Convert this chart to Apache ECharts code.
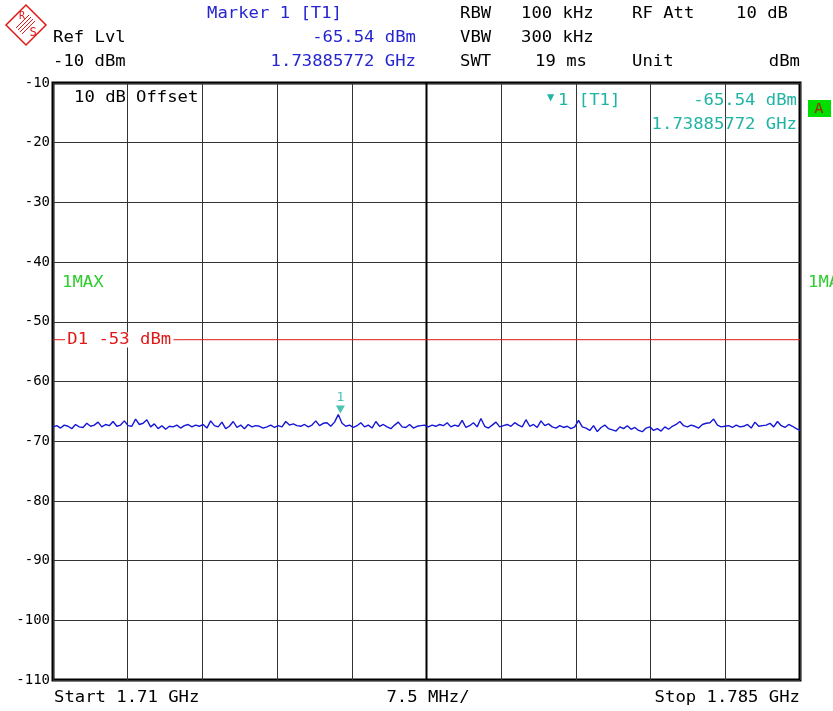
<!DOCTYPE html>
<html><head><meta charset="utf-8">
<script src="https://cdn.jsdelivr.net/npm/echarts@6/dist/echarts.min.js"></script>
<style>html,body{margin:0;padding:0;background:#fff}#c{width:833px;height:711px}</style>
</head><body><div id="c"></div>
<script>
// ---- data ----
const startMHz = 1710;
const stopMHz = 1785;
const spanPerDivMHz = 7.5;
const refLevel = -10;
const bottomLevel = -110;
const levelStep = 10;
const displayLineLevel = -53;
const markerFreqMHz = 1738.85772;
const markerLevel = -65.54;
const traceValues = [
 -67.6,-67.4,-67.8,-67.3,-67.5,-67.9,-67.2,-67.6,-67.7,-67.0,-67.5,-67.3,-66.8,-67.6,-67.2,-67.4,-66.7,-67.5,-67.3,-66.6,
 -67.4,-67.5,-66.3,-67.2,-67.0,-66.4,-67.6,-67.1,-67.9,-67.4,-68.0,-67.5,-67.6,-67.3,-67.8,-67.4,-67.2,-67.6,-67.3,-67.5,
 -67.2,-67.8,-66.6,-67.4,-67.6,-66.8,-67.9,-67.5,-66.7,-67.7,-67.3,-67.9,-67.2,-67.6,-67.4,-67.5,-67.8,-67.6,-67.3,-67.7,
 -67.4,-67.6,-66.7,-67.3,-67.1,-67.4,-67.5,-67.2,-67.6,-67.3,-66.6,-67.4,-67.0,-66.9,-67.5,-66.8,-65.54,-67.0,-67.5,-67.3,
 -67.7,-67.4,-66.9,-67.6,-67.3,-67.8,-66.7,-67.5,-67.2,-67.6,-67.9,-67.3,-66.8,-67.6,-67.7,-67.2,-67.8,-67.5,-67.4,-67.3,
 -67.6,-67.3,-67.5,-67.2,-67.4,-66.9,-67.6,-67.3,-67.5,-66.5,-67.7,-67.4,-66.9,-67.6,-66.2,-67.5,-67.8,-67.3,-66.8,-67.6,
 -67.4,-67.2,-67.5,-66.9,-67.3,-67.6,-66.4,-67.5,-67.2,-67.7,-66.6,-67.4,-67.1,-67.6,-67.8,-67.4,-67.7,-67.5,-67.9,-67.6,
 -66.5,-67.6,-67.8,-68.2,-67.4,-68.4,-67.7,-67.3,-67.9,-68.1,-68.3,-67.6,-67.9,-67.4,-68.0,-67.7,-68.2,-68.4,-67.8,-67.6,
 -68.2,-67.9,-68.3,-67.6,-68.0,-67.5,-67.2,-66.7,-67.4,-67.6,-67.3,-67.5,-67.8,-67.2,-67.0,-66.9,-66.3,-67.3,-67.6,-67.5,
 -67.4,-67.7,-67.3,-67.6,-67.5,-67.2,-67.8,-66.8,-67.5,-67.4,-67.3,-67.0,-67.6,-66.7,-67.4,-67.7,-67.2,-67.5,-67.9,-68.2
];

// ---- build ----
const n = traceValues.length;
const traceData = traceValues.map((v, i) => [startMHz + i * (stopMHz - startMHz) / (n - 1), v]);
const centerMHz = (startMHz + stopMHz) / 2;

const MONO = "'DejaVu Sans Mono', 'Liberation Mono', monospace";
const SX = 1.15;
function t(text, x, y, color, align, size, scale) {
  return {
    type: 'text', x: x, y: y, scaleX: scale || SX, z: 100,
    style: { text: text, fill: color, fontFamily: MONO, fontSize: size || 15,
             textAlign: align || 'left', textVerticalAlign: 'middle' }
  };
}
const BLACK = '#000', BLUE = '#2626d0', TEAL = '#20b4a4', GREEN = '#30cc30', RED = '#e01818';

const graphics = [
  // R&S logo
  { type: 'polygon', z: 100, shape: { points: [[26,5],[46,25],[26,45],[6,25]] }, style: { fill: 'none', stroke: RED, lineWidth: 1.5 } },
  { type: 'line', z: 100, shape: { x1: 16, y1: 28, x2: 29, y2: 15 }, style: { stroke: RED, lineWidth: 1 } },
  { type: 'line', z: 100, shape: { x1: 18, y1: 30, x2: 31, y2: 17 }, style: { stroke: RED, lineWidth: 1 } },
  { type: 'line', z: 100, shape: { x1: 20, y1: 32, x2: 33, y2: 19 }, style: { stroke: RED, lineWidth: 1 } },
  { type: 'line', z: 100, shape: { x1: 22, y1: 34, x2: 35, y2: 21 }, style: { stroke: RED, lineWidth: 1 } },
  { type: 'text', z: 100, x: 22, y: 16, style: { text: 'R', fill: RED, fontFamily: MONO, fontSize: 10, textAlign: 'center', textVerticalAlign: 'middle' } },
  { type: 'text', z: 100, x: 33, y: 33, style: { text: 'S', fill: RED, fontFamily: MONO, fontSize: 12, textAlign: 'center', textVerticalAlign: 'middle' } },
  // header
  t('Ref Lvl', 53, 38, BLACK),
  t('-10 dBm', 53, 62, BLACK),
  t('Marker 1 [T1]', 207, 14, BLUE),
  t('-65.54 dBm', 416, 38, BLUE, 'right'),
  t('1.73885772 GHz', 416, 62, BLUE, 'right'),
  t('RBW', 460, 14, BLACK),
  t('100 kHz', 521, 14, BLACK),
  t('RF Att', 632, 14, BLACK),
  t('10 dB', 788, 14, BLACK, 'right'),
  t('VBW', 460, 38, BLACK),
  t('300 kHz', 521, 38, BLACK),
  t('SWT', 460, 62, BLACK),
  t('19 ms', 535, 62, BLACK),
  t('Unit', 632, 62, BLACK),
  t('dBm', 800, 62, BLACK, 'right'),
  // inside plot
  t('10 dB', 74, 98, BLACK),
  t('Offset', 136, 98, BLACK),
  t('▼', 547, 98, TEAL, 'left', 12, 1),
  t('1 [T1]', 558, 101, TEAL),
  t('-65.54 dBm', 797, 101, TEAL, 'right'),
  t('1.73885772 GHz', 797, 125, TEAL, 'right'),
  t('1MAX', 62, 283, GREEN),
  t('1MAX', 808, 283, GREEN),
  { type: 'rect', z: 100, shape: { x: 808, y: 100, width: 23, height: 17 }, style: { fill: '#00e000' } },
  t('A', 819, 109, '#a02800', 'center', 14, 1.1),
  { type: 'text', z: 100, x: 65, y: 340, scaleX: SX,
    style: { text: 'D1 -53 dBm', fill: RED, fontFamily: MONO, fontSize: 15, textAlign: 'left', textVerticalAlign: 'middle',
             backgroundColor: '#fff', padding: [0, 2] } },
  // footer
  t('Start 1.71 GHz', 54, 698, BLACK),
  t('7.5 MHz/', 428, 698, BLACK, 'center'),
  t('Stop 1.785 GHz', 800, 698, BLACK, 'right')
];

const chart = echarts.init(document.getElementById('c'), null, { renderer: 'canvas' });
chart.setOption({
  animation: false,
  backgroundColor: '#fff',
  grid: { left: 53, right: 33, top: 83, bottom: 31, show: true, borderColor: '#000', borderWidth: 3, backgroundColor: 'transparent' },
  xAxis: {
    type: 'value', min: startMHz, max: stopMHz, interval: spanPerDivMHz,
    axisLabel: { show: false }, axisTick: { show: false }, axisLine: { show: false },
    splitLine: { show: true, lineStyle: { color: '#333', width: 1 } }
  },
  yAxis: {
    type: 'value', min: bottomLevel, max: refLevel, interval: levelStep,
    axisLine: { show: false }, axisTick: { show: false },
    axisLabel: { color: '#000', fontFamily: MONO, fontSize: 14, margin: 3 },
    splitLine: { show: true, lineStyle: { color: '#333', width: 1 } }
  },
  series: [
    {
      type: 'line', data: [[centerMHz, bottomLevel], [centerMHz, refLevel]], symbol: 'none',
      lineStyle: { color: '#000', width: 2 }, silent: true, z: 1
    },
    {
      type: 'line', data: [[startMHz, displayLineLevel], [stopMHz, displayLineLevel]], symbol: 'none',
      lineStyle: { color: RED, width: 1 }, silent: true, z: 2
    },
    {
      type: 'line', data: traceData, symbol: 'none',
      lineStyle: { color: '#1616d8', width: 1.4 }, z: 3
    },
    {
      type: 'scatter', data: [[markerFreqMHz, markerLevel]], symbol: 'triangle', symbolRotate: 180,
      symbolSize: [9, 8], symbolOffset: [0, -5], itemStyle: { color: TEAL }, z: 4,
      label: { show: true, formatter: '1', position: 'top', distance: 1, color: TEAL, fontFamily: MONO, fontSize: 13 }
    }
  ],
  graphic: graphics
});
</script>
</body></html>
